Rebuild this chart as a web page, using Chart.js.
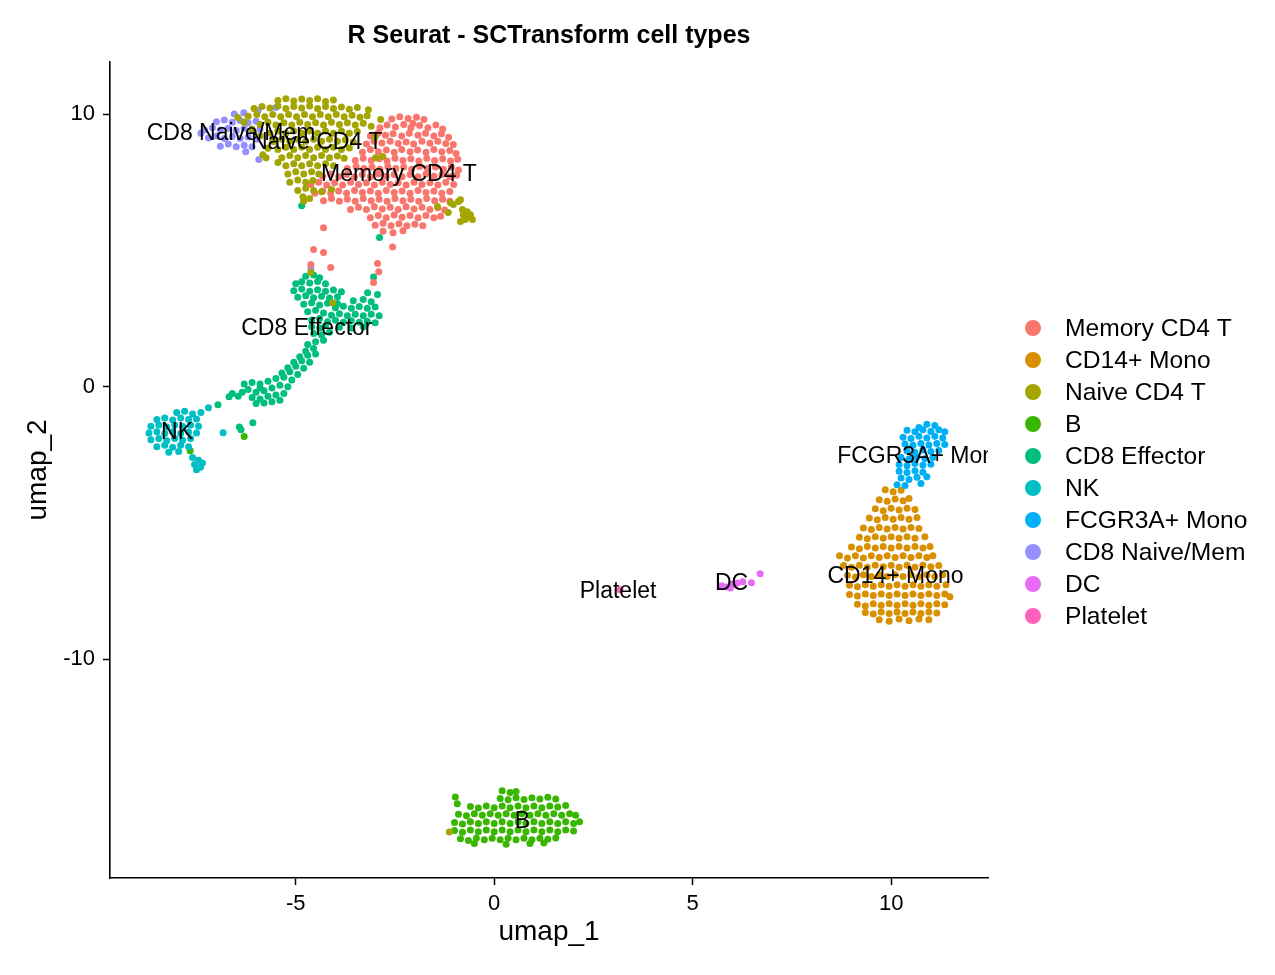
<!DOCTYPE html>
<html>
<head>
<meta charset="utf-8">
<script src="https://cdn.jsdelivr.net/npm/chart.js@4.4.1/dist/chart.umd.min.js"></script>
<style>
  html, body { margin: 0; padding: 0; background: #fff; }
  #wrap { width: 1275px; height: 975px; }
</style>
</head>
<body>
<div id="wrap"><canvas id="umap" width="1275" height="975"></canvas></div>
<script>
// cell types, in legend order
const cellTypes = ["Memory CD4 T", "CD14+ Mono", "Naive CD4 T", "B", "CD8 Effector",
  "NK", "FCGR3A+ Mono", "CD8 Naive/Mem", "DC", "Platelet"];
const typeColors = ["#F8766D", "#D89000", "#A3A500", "#39B600", "#00BF7D",
  "#00BFC4", "#00B0F6", "#9590FF", "#E76BF3", "#FF62BC"];

// where each cluster label sits (umap units)
const labelX = [-2.4, 10.11, -4.47, 0.71, -4.72, -7.99, 10.79, -6.63, 5.98, 3.12];
const labelY = [7.78, -6.97, 8.95, -15.96, 2.13, -1.69, -2.57, 9.28, -7.23, -7.52];

const xTicks = [-5, 0, 5, 10];
const yTicks = [-10, 0, 10];

// cells, [umap_1, umap_2]
const memoryCD4T = [
  [-2.58,9.82],[-2.38,9.9],[-2.17,9.84],[-1.96,9.88],[-1.77,9.8],[-2.05,9.65],
  [-2.88,9.5],[-2.7,9.6],[-2.49,9.53],[-2.28,9.62],[-2.1,9.5],[-1.88,9.58],[-1.67,9.5],[-1.47,9.6],[-1.3,9.45],
  [-3.12,9.2],[-2.93,9.3],[-2.74,9.22],[-2.55,9.28],[-2.33,9.2],[-2.14,9.3],[-1.92,9.22],[-1.73,9.3],[-1.52,9.2],[-1.33,9.28],[-1.15,9.15],
  [-3.22,8.9],[-3.03,9.0],[-2.83,8.94],[-2.62,9.0],[-2.42,8.92],[-2.22,8.98],[-2.03,8.9],[-1.82,9.0],[-1.62,8.93],[-1.42,9.0],[-1.22,8.92],[-1.03,8.88],
  [-3.32,8.6],[-3.12,8.7],[-2.92,8.62],[-2.72,8.68],[-2.52,8.6],[-2.33,8.7],[-2.12,8.62],[-1.93,8.68],[-1.72,8.6],[-1.52,8.7],[-1.32,8.62],[-1.12,8.66],[-0.96,8.55],
  [-3.5,8.3],[-3.3,8.38],[-3.1,8.3],[-2.9,8.36],[-2.7,8.28],[-2.5,8.38],[-2.3,8.3],[-2.1,8.36],[-1.9,8.28],[-1.7,8.38],[-1.5,8.3],[-1.3,8.36],[-1.1,8.28],[-0.92,8.34],
  [-3.7,8.0],[-3.48,8.08],[-3.28,8.0],[-3.08,8.06],[-2.88,7.98],[-2.68,8.08],[-2.48,8.0],[-2.28,8.06],[-2.08,7.98],[-1.88,8.08],[-1.68,8.0],[-1.48,8.06],[-1.28,7.98],[-1.08,8.06],[-0.9,7.95],
  [-4.32,7.72],[-4.12,7.8],[-3.92,7.7],[-3.72,7.78],[-3.52,7.7],[-3.32,7.78],[-3.12,7.7],[-2.92,7.8],[-2.72,7.72],[-2.52,7.78],[-2.32,7.7],[-2.12,7.78],[-1.92,7.7],[-1.72,7.8],[-1.52,7.72],[-1.32,7.78],[-1.12,7.7],[-0.95,7.76],
  [-4.62,7.42],[-4.42,7.5],[-4.22,7.4],[-4.02,7.48],[-3.82,7.4],[-3.62,7.5],[-3.42,7.42],[-3.22,7.48],[-3.02,7.4],[-2.82,7.5],[-2.62,7.42],[-2.42,7.48],[-2.22,7.4],[-2.02,7.5],[-1.82,7.42],[-1.62,7.48],[-1.42,7.4],[-1.22,7.5],[-1.02,7.42],
  [-4.52,7.1],[-4.32,7.18],[-4.12,7.1],[-3.92,7.18],[-3.72,7.1],[-3.52,7.2],[-3.32,7.12],[-3.12,7.18],[-2.92,7.1],[-2.72,7.2],[-2.52,7.12],[-2.32,7.18],[-2.12,7.1],[-1.92,7.2],[-1.72,7.12],[-1.52,7.18],[-1.32,7.1],[-1.12,7.16],
  [-4.3,6.82],[-4.1,6.9],[-3.9,6.8],[-3.7,6.88],[-3.5,6.8],[-3.3,6.9],[-3.1,6.82],[-2.9,6.88],[-2.7,6.8],[-2.5,6.9],[-2.3,6.82],[-2.1,6.88],[-1.9,6.8],[-1.7,6.9],[-1.5,6.82],[-1.3,6.88],[-1.12,6.8],
  [-3.62,6.5],[-3.42,6.58],[-3.22,6.5],[-3.02,6.6],[-2.82,6.52],[-2.62,6.58],[-2.42,6.5],[-2.22,6.6],[-2.02,6.52],[-1.82,6.58],[-1.62,6.5],[-1.42,6.56],[-1.25,6.48],
  [-3.12,6.2],[-2.92,6.28],[-2.72,6.2],[-2.52,6.3],[-2.32,6.22],[-2.12,6.28],[-1.92,6.2],[-1.72,6.28],[-1.52,6.2],[-1.35,6.25],
  [-3.0,5.92],[-2.8,6.0],[-2.6,5.9],[-2.4,5.98],[-2.2,5.9],[-2.0,5.96],[-1.8,5.9],
  [-2.8,5.7],[-2.55,5.65],[-2.3,5.72],
  [-4.3,5.83],[-4.55,5.03],[-4.3,4.92],[-2.56,5.12],[-4.62,4.48],[-4.12,4.37],[-2.94,4.52],[-2.91,4.22],[-3.04,3.82]
];

const cd14Mono = [
  [9.85,-3.78],[10.05,-3.85],[10.25,-3.8],
  [9.7,-4.15],[9.9,-4.2],[10.1,-4.12],[10.3,-4.18],[10.45,-4.1],
  [9.6,-4.48],[9.8,-4.55],[10.0,-4.46],[10.2,-4.52],[10.4,-4.46],[10.6,-4.5],
  [9.45,-4.82],[9.65,-4.88],[9.85,-4.8],[10.05,-4.86],[10.25,-4.8],[10.45,-4.86],[10.65,-4.8],
  [9.3,-5.18],[9.5,-5.24],[9.7,-5.16],[9.9,-5.22],[10.1,-5.16],[10.3,-5.22],[10.5,-5.16],[10.7,-5.2],
  [9.2,-5.52],[9.4,-5.58],[9.6,-5.5],[9.8,-5.56],[10.0,-5.5],[10.2,-5.56],[10.4,-5.5],[10.6,-5.56],[10.85,-5.5],
  [9.0,-5.88],[9.2,-5.94],[9.4,-5.86],[9.6,-5.92],[9.8,-5.86],[10.0,-5.92],[10.2,-5.86],[10.4,-5.92],[10.6,-5.86],[10.8,-5.92],[10.98,-5.86],
  [8.7,-6.2],[8.9,-6.28],[9.1,-6.2],[9.3,-6.28],[9.5,-6.2],[9.7,-6.26],[9.9,-6.2],[10.1,-6.26],[10.3,-6.2],[10.5,-6.26],[10.7,-6.2],[10.9,-6.26],[11.05,-6.2],
  [8.8,-6.56],[9.0,-6.62],[9.2,-6.55],[9.4,-6.62],[9.6,-6.55],[9.8,-6.6],[10.0,-6.55],[10.2,-6.62],[10.4,-6.55],[10.6,-6.62],[10.8,-6.55],[11.0,-6.6],[11.2,-6.56],
  [8.9,-6.92],[9.1,-6.98],[9.3,-6.9],[9.5,-6.96],[9.7,-6.9],[9.9,-6.96],[10.1,-6.9],[10.3,-6.96],[10.5,-6.9],[10.7,-6.96],[10.9,-6.9],[11.1,-6.96],[11.3,-6.9],
  [8.95,-7.28],[9.15,-7.34],[9.35,-7.26],[9.55,-7.32],[9.75,-7.26],[9.95,-7.32],[10.15,-7.26],[10.35,-7.32],[10.55,-7.26],[10.75,-7.32],[10.95,-7.26],[11.15,-7.32],[11.38,-7.26],
  [8.95,-7.62],[9.15,-7.68],[9.35,-7.6],[9.55,-7.66],[9.75,-7.6],[9.95,-7.66],[10.15,-7.6],[10.35,-7.66],[10.55,-7.6],[10.75,-7.66],[10.95,-7.6],[11.15,-7.66],[11.35,-7.6],[11.48,-7.7],
  [9.15,-7.98],[9.35,-8.04],[9.55,-7.96],[9.75,-8.02],[9.95,-7.96],[10.15,-8.02],[10.35,-7.96],[10.55,-8.02],[10.75,-7.96],[10.95,-8.02],[11.15,-7.96],[11.35,-8.0],
  [9.35,-8.28],[9.55,-8.34],[9.75,-8.26],[9.95,-8.32],[10.15,-8.26],[10.35,-8.32],[10.55,-8.26],[10.75,-8.32],[10.95,-8.26],[11.15,-8.3],
  [9.7,-8.55],[9.95,-8.6],[10.2,-8.52],[10.45,-8.58],[10.7,-8.52],[10.95,-8.55]
];

const naiveCD4T = [
  [-5.45,10.5],[-5.25,10.56],[-5.05,10.48],[-4.85,10.55],[-4.65,10.5],[-4.45,10.56],[-4.25,10.46],[-4.05,10.52],
  [-6.05,10.2],[-5.85,10.28],[-5.65,10.22],[-5.45,10.3],[-5.25,10.2],[-5.05,10.28],[-4.85,10.22],[-4.65,10.3],[-4.45,10.2],[-4.25,10.28],[-4.05,10.2],[-3.85,10.26],[-3.65,10.18],[-3.45,10.24],
  [-6.2,9.92],[-5.98,9.98],[-5.78,9.9],[-5.58,9.98],[-5.38,9.9],[-5.18,9.98],[-4.98,9.9],[-4.78,9.98],[-4.58,9.9],[-4.38,9.98],[-4.18,9.9],[-3.98,9.98],[-3.78,9.9],[-3.58,9.96],[-3.38,9.88],[-3.2,9.94],
  [-5.9,9.62],[-5.7,9.7],[-5.5,9.6],[-5.3,9.68],[-5.1,9.6],[-4.9,9.7],[-4.7,9.62],[-4.5,9.68],[-4.3,9.6],[-4.1,9.7],[-3.9,9.62],[-3.7,9.68],[-3.5,9.6],[-3.3,9.66],
  [-5.65,9.3],[-5.45,9.38],[-5.25,9.3],[-5.05,9.38],[-4.85,9.3],[-4.65,9.38],[-4.45,9.3],[-4.25,9.38],[-4.05,9.3],[-3.85,9.38],[-3.65,9.3],[-3.45,9.36],
  [-5.55,9.0],[-5.35,9.08],[-5.15,9.0],[-4.95,9.08],[-4.75,9.0],[-4.55,9.08],[-4.35,9.0],[-4.15,9.08],[-3.95,9.0],[-3.75,9.06],[-3.55,8.98],
  [-5.45,8.7],[-5.25,8.78],[-5.05,8.7],[-4.85,8.78],[-4.65,8.7],[-4.45,8.78],[-4.25,8.7],[-4.05,8.78],[-3.85,8.7],[-3.65,8.76],
  [-5.35,8.4],[-5.15,8.48],[-4.95,8.4],[-4.75,8.48],[-4.55,8.4],[-4.35,8.48],[-4.15,8.4],[-3.95,8.46],[-3.78,8.38],
  [-5.25,8.1],[-5.05,8.18],[-4.85,8.1],[-4.65,8.18],[-4.45,8.1],[-4.25,8.18],[-4.05,8.1],
  [-5.2,7.8],[-5.0,7.88],[-4.8,7.8],[-4.6,7.88],[-4.42,7.8],
  [-5.15,7.5],[-4.95,7.58],[-4.75,7.5],[-4.57,7.56],
  [-4.95,7.2],[-4.75,7.28],[-4.55,7.2],[-4.35,7.15],[-4.1,7.23],
  [-4.82,6.97],[-4.8,6.8],[-4.65,6.9],
  [-6.46,9.87],[-6.3,9.7],[-5.83,8.51],[-5.75,8.4],[-5.58,8.99],[-5.45,8.22],[-6.1,9.45],[-5.9,9.2],[-5.7,8.75],
  [-3.17,10.16],[-2.86,9.8],[-2.99,8.4],[-2.81,8.44],[-3.1,9.55],[-3.0,9.15],
  [-1.43,6.61],[-1.1,6.75],[-1.03,6.68],[-0.9,6.79],[-1.16,6.39],[-0.8,6.5],[-0.68,6.42],[-0.6,6.31],[-0.55,6.13],
  [-0.73,6.13],[-0.85,6.06],[-0.65,6.24],[-0.78,6.31],[-0.85,6.86],
  [-4.62,4.2],[-4.07,3.08],[-1.13,-16.33]
];

const bCells = [
  [0.2,-14.82],[0.4,-14.88],[0.55,-14.85],
  [-0.98,-15.05],[0.15,-15.1],[0.35,-15.15],[0.55,-15.08],[0.75,-15.14],[0.95,-15.08],[1.15,-15.12],[1.35,-15.06],[1.55,-15.12],
  [-0.93,-15.3],[-0.6,-15.4],[-0.4,-15.45],[-0.2,-15.38],[0.0,-15.44],[0.2,-15.38],[0.4,-15.44],[0.6,-15.38],[0.8,-15.44],[1.0,-15.38],[1.2,-15.44],[1.4,-15.38],[1.6,-15.42],[1.8,-15.36],
  [-0.9,-15.68],[-0.7,-15.74],[-0.5,-15.66],[-0.3,-15.72],[-0.1,-15.66],[0.1,-15.72],[0.3,-15.66],[0.5,-15.72],[0.7,-15.66],[0.9,-15.72],[1.1,-15.66],[1.3,-15.72],[1.5,-15.66],[1.7,-15.72],[1.9,-15.66],[2.05,-15.72],
  [-1.0,-15.98],[-0.8,-16.04],[-0.6,-15.96],[-0.4,-16.02],[-0.2,-15.96],[0.0,-16.02],[0.2,-15.96],[0.4,-16.02],[0.6,-15.96],[0.8,-16.02],[1.0,-15.96],[1.2,-16.02],[1.4,-15.96],[1.6,-16.02],[1.8,-15.96],[2.0,-16.02],[2.15,-15.96],
  [-1.0,-16.28],[-0.8,-16.34],[-0.6,-16.26],[-0.4,-16.32],[-0.2,-16.26],[0.0,-16.32],[0.2,-16.26],[0.4,-16.32],[0.6,-16.26],[0.8,-16.32],[1.0,-16.26],[1.2,-16.32],[1.4,-16.26],[1.6,-16.32],[1.8,-16.26],[2.0,-16.3],
  [-0.85,-16.58],[-0.65,-16.64],[-0.45,-16.56],[-0.25,-16.62],[-0.05,-16.56],[0.15,-16.62],[0.35,-16.56],[0.55,-16.62],[0.75,-16.56],[0.95,-16.62],[1.15,-16.56],[1.35,-16.6],[1.55,-16.55],
  [-0.5,-16.75],[0.3,-16.78],[0.9,-16.75],[1.25,-16.74],
  [-6.3,-1.83],[-7.66,-2.35]
];

const cd8Effector = [
  [-4.75,4.05],[-4.55,4.1],[-4.4,4.0],
  [-5.0,3.78],[-4.85,3.85],[-4.65,3.8],[-4.45,3.86],[-4.25,3.78],
  [-5.05,3.52],[-4.85,3.58],[-4.65,3.5],[-4.45,3.56],[-4.25,3.5],[-4.05,3.55],[-3.85,3.48],
  [-4.95,3.28],[-4.75,3.34],[-4.55,3.26],[-4.35,3.32],[-4.15,3.25],[-3.95,3.3],
  [-4.8,3.02],[-4.6,3.08],[-4.4,3.0],[-4.2,3.06],[-3.95,3.05],
  [-3.55,3.15],[-3.3,3.2],[-3.1,3.12],
  [-4.0,2.9],[-3.8,2.95],[-3.6,2.88],[-3.4,2.94],[-3.2,2.88],[-3.0,2.92],
  [-4.1,2.62],[-3.9,2.68],[-3.7,2.6],[-3.5,2.66],[-3.3,2.6],[-3.1,2.66],[-2.9,2.6],
  [-4.2,2.38],[-4.0,2.44],[-3.8,2.36],[-3.6,2.42],[-3.4,2.36],[-3.2,2.4],[-3.0,2.35],
  [-3.9,2.18],[-3.6,2.15],[-3.3,2.2],
  [-4.7,2.75],[-4.5,2.8],[-4.3,2.7],[-4.6,2.45],[-4.4,2.5],[-4.6,2.2],[-4.4,2.15],[-4.25,2.25],
  [-4.55,1.95],[-4.35,1.9],[-4.15,2.0],[-4.5,1.65],[-4.3,1.7],[-4.7,1.55],
  [-4.75,1.3],[-4.55,1.4],[-4.9,1.1],[-4.7,1.15],[-4.5,1.2],[-5.05,0.9],[-4.85,0.95],[-4.65,0.9],
  [-5.2,0.7],[-5.0,0.75],[-4.8,0.68],[-5.35,0.5],[-5.15,0.55],[-4.95,0.45],[-5.5,0.3],[-5.3,0.35],[-5.1,0.25],[-5.7,0.2],[-5.9,0.1],
  [-6.3,0.1],[-6.1,0.15],[-5.9,-0.05],[-6.2,-0.1],[-6.0,-0.2],[-5.8,-0.15],[-5.6,-0.05],[-5.4,0.05],[-5.2,0.0],
  [-6.1,-0.4],[-5.9,-0.45],[-5.7,-0.35],[-5.5,-0.3],[-5.3,-0.25],[-5.6,-0.55],[-5.8,-0.6],[-6.0,-0.62],[-6.35,-0.2],[-5.4,-0.5],
  [-6.45,-0.35],[-6.68,-0.37],[-6.96,-0.66],[-6.6,-0.25],
  [-6.08,-1.32],[-6.38,-1.58],[-6.42,-1.48],
  [-3.04,4.02],[-2.94,3.38],[-3.19,3.45],[-2.89,5.47],[-4.85,6.64]
];

const nkCells = [
  [-8.0,-0.95],[-7.8,-0.9],[-7.6,-1.0],
  [-8.5,-1.2],[-8.3,-1.15],[-8.1,-1.22],[-7.9,-1.15],[-7.7,-1.2],[-7.5,-1.18],
  [-8.65,-1.45],[-8.45,-1.4],[-8.25,-1.48],[-8.05,-1.4],[-7.85,-1.46],[-7.65,-1.4],[-7.45,-1.45],
  [-8.7,-1.7],[-8.5,-1.65],[-8.3,-1.72],[-8.1,-1.65],[-7.9,-1.72],[-7.7,-1.66],[-7.5,-1.7],
  [-8.65,-1.95],[-8.45,-1.9],[-8.25,-1.98],[-8.05,-1.9],[-7.85,-1.96],[-7.65,-1.9],
  [-8.5,-2.2],[-8.3,-2.15],[-8.1,-2.22],[-7.9,-2.15],[-7.7,-2.2],
  [-8.2,-2.4],[-7.95,-2.38],
  [-7.6,-2.6],[-7.45,-2.7],[-7.55,-2.85],[-7.4,-2.95],[-7.5,-3.05],[-7.35,-2.8],
  [-7.2,-0.77],[-6.83,-1.69],[-7.39,-0.95]
];

const fcgr3aMono = [
  [10.9,-1.38],[11.1,-1.42],[10.7,-1.5],
  [10.4,-1.6],[10.6,-1.65],[10.8,-1.58],[11.0,-1.64],[11.2,-1.58],[11.35,-1.65],
  [10.3,-1.85],[10.5,-1.9],[10.7,-1.82],[10.9,-1.88],[11.1,-1.82],[11.3,-1.88],
  [10.35,-2.1],[10.55,-2.15],[10.75,-2.08],[10.95,-2.14],[11.15,-2.08],[11.35,-2.12],
  [10.4,-2.35],[10.6,-2.4],[10.8,-2.32],[11.0,-2.38],[11.2,-2.34],
  [10.25,-2.6],[10.45,-2.65],[10.65,-2.58],[10.85,-2.64],[11.05,-2.6],
  [10.2,-2.85],[10.4,-2.9],[10.6,-2.82],[10.8,-2.88],[11.0,-2.84],
  [10.2,-3.1],[10.4,-3.15],[10.6,-3.08],[10.8,-3.14],
  [10.25,-3.35],[10.45,-3.4],[10.65,-3.32],[10.9,-3.3],
  [10.15,-3.6],[10.35,-3.62],[10.75,-3.55]
];

const cd8NaiveMem = [
  [-7.0,9.72],[-6.8,9.78],[-6.6,9.7],[-6.4,9.76],[-6.2,9.68],[-6.0,9.74],
  [-7.3,9.42],[-7.1,9.5],[-6.9,9.42],[-6.7,9.48],[-6.5,9.4],[-6.3,9.48],[-6.1,9.4],[-5.9,9.45],
  [-7.2,9.12],[-7.0,9.2],[-6.8,9.1],[-6.6,9.18],[-6.4,9.1],[-6.2,9.16],[-6.0,9.08],
  [-6.9,8.82],[-6.7,8.9],[-6.5,8.8],[-6.3,8.86],[-6.1,8.8],
  [-7.39,9.3],[-5.95,10.13],[-5.5,10.24],[-6.26,8.62],[-5.93,8.33],[-6.55,10.0],[-6.31,10.05],
  [-4.62,4.33]
];

const dcCells = [[5.73,-7.3],[5.85,-7.35],[6.0,-7.25],[6.12,-7.2],[6.26,-7.15],[5.95,-7.38],[6.48,-7.19],[6.7,-6.86]];
const plateletCells = [[3.17,-7.45]];

const cellsByType = [memoryCD4T, cd14Mono, naiveCD4T, bCells, cd8Effector,
  nkCells, fcgr3aMono, cd8NaiveMem, dcCells, plateletCells];
// order the clusters are painted in (later on top)
const drawOrder = [2, 0, 7, 4, 5, 3, 6, 1, 8, 9];

const FONT = "'Liberation Sans', Arial, Helvetica, sans-serif";
Chart.defaults.font.family = FONT;
Chart.defaults.color = "#000";

// cluster names on top of the points, clipped to the panel
const clusterLabels = {
  id: "clusterLabels",
  afterDatasetsDraw(chart) {
    const { ctx, chartArea: a, scales } = chart;
    ctx.save();
    ctx.beginPath();
    ctx.rect(a.left, a.top, a.right - a.left, a.bottom - a.top);
    ctx.clip();
    ctx.font = "23px " + FONT;
    ctx.fillStyle = "#000";
    ctx.textAlign = "center";
    ctx.textBaseline = "middle";
    cellTypes.forEach((name, i) => {
      ctx.fillText(name, scales.x.getPixelForValue(labelX[i]), scales.y.getPixelForValue(labelY[i]));
    });
    ctx.restore();
  }
};

// title and the legend at the right
const sideDecor = {
  id: "sideDecor",
  afterDraw(chart) {
    const { ctx, chartArea: a } = chart;
    ctx.save();
    ctx.fillStyle = "#000";
    ctx.font = "bold 25px " + FONT;
    ctx.textAlign = "center";
    ctx.textBaseline = "middle";
    ctx.fillText("R Seurat - SCTransform cell types", (a.left + a.right) / 2, 36);

    ctx.font = "24.6px " + FONT;
    ctx.textAlign = "left";
    cellTypes.forEach((name, i) => {
      const y = 328 + i * 32;
      ctx.beginPath();
      ctx.arc(1033, y, 8, 0, Math.PI * 2);
      ctx.fillStyle = typeColors[i];
      ctx.fill();
      ctx.fillStyle = "#000";
      ctx.fillText(name, 1065, y + 1);
    });
    ctx.restore();
  }
};

const datasets = drawOrder.map((i) => ({
  label: cellTypes[i],
  data: cellsByType[i].map((p) => ({ x: p[0], y: p[1] })),
  backgroundColor: typeColors[i],
  borderWidth: 0,
  pointRadius: 3.5,
  pointHoverRadius: 3.5
}));

const axisGrid = { display: true, drawOnChartArea: false, drawTicks: true, tickLength: 7, tickColor: "#000", tickWidth: 1.5 };
const axisBorder = { display: true, color: "#000", width: 1.6 };

new Chart(document.getElementById("umap"), {
  type: "scatter",
  data: { datasets },
  plugins: [clusterLabels, sideDecor],
  options: {
    responsive: false,
    animation: false,
    events: [],
    elements: { point: { radius: 3.5, borderWidth: 0 } },
    layout: { autoPadding: false, padding: { left: 0, right: 287, top: 62, bottom: 0 } },
    plugins: { legend: { display: false }, tooltip: { enabled: false } },
    scales: {
      x: {
        type: "linear", min: -9.68, max: 12.44,
        afterBuildTicks: (s) => { s.ticks = xTicks.map((v) => ({ value: v })); },
        afterFit: (s) => { s.height = 97; },
        ticks: { font: { size: 22 }, color: "#000", padding: 6, maxRotation: 0 },
        grid: axisGrid, border: axisBorder,
        title: { display: true, text: "umap_1", font: { size: 28 }, color: "#000", padding: { top: 0, bottom: 26 } }
      },
      y: {
        type: "linear", min: -18.02, max: 11.91,
        afterBuildTicks: (s) => { s.ticks = yTicks.map((v) => ({ value: v })); },
        afterFit: (s) => { s.width = 110; },
        ticks: { font: { size: 22 }, color: "#000", padding: 8 },
        grid: axisGrid, border: axisBorder,
        title: { display: true, text: "umap_2", font: { size: 28 }, color: "#000", padding: { top: 21, bottom: 0 } }
      }
    }
  }
});
</script>
</body>
</html>
